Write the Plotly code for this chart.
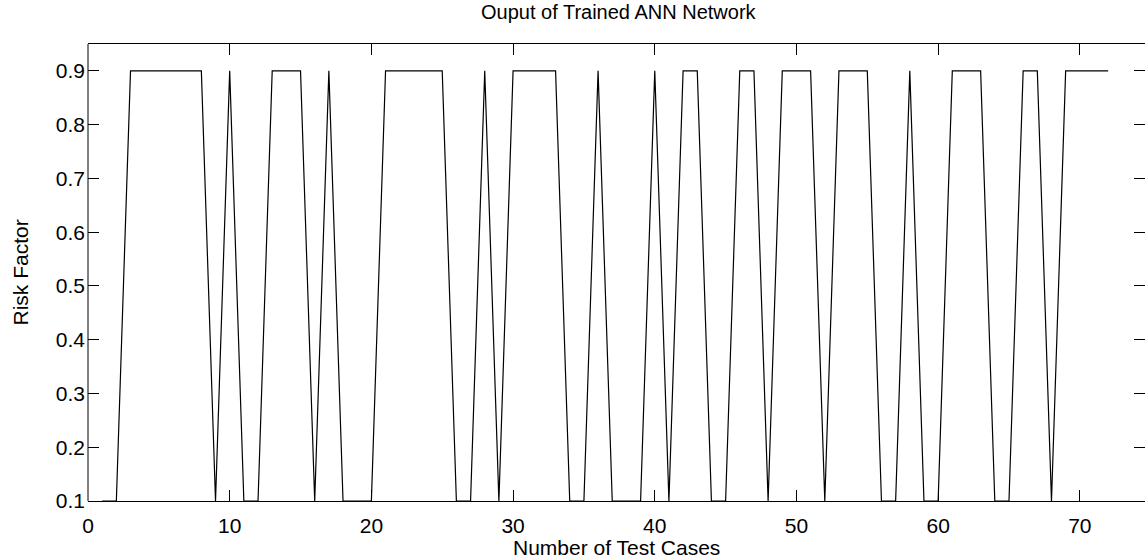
import plotly.graph_objects as go

# Network output for each test case
test_cases = list(range(1, 73))
risk_factor = [
    0.1, 0.1, 0.9, 0.9, 0.9, 0.9, 0.9, 0.9, 0.1, 0.9,
    0.1, 0.1, 0.9, 0.9, 0.9, 0.1, 0.9, 0.1, 0.1, 0.1,
    0.9, 0.9, 0.9, 0.9, 0.9, 0.1, 0.1, 0.9, 0.1, 0.9,
    0.9, 0.9, 0.9, 0.1, 0.1, 0.9, 0.1, 0.1, 0.1, 0.9,
    0.1, 0.9, 0.9, 0.1, 0.1, 0.9, 0.9, 0.1, 0.9, 0.9,
    0.9, 0.1, 0.9, 0.9, 0.9, 0.1, 0.1, 0.9, 0.1, 0.1,
    0.9, 0.9, 0.9, 0.1, 0.1, 0.9, 0.9, 0.1, 0.9, 0.9,
    0.9, 0.9,
]
x_ticks = [0, 10, 20, 30, 40, 50, 60, 70]
y_ticks = [0.1, 0.2, 0.3, 0.4, 0.5, 0.6, 0.7, 0.8, 0.9]

W, H = 1145, 559
L, R, T, B = 88, 0, 44, 58
FONT = "Arial, Liberation Sans, Helvetica, sans-serif"

fig = go.Figure()
fig.add_trace(go.Scatter(
    x=test_cases, y=risk_factor, mode="lines",
    line=dict(color="black", width=1.2),
    showlegend=False, hoverinfo="x+y",
))

fig.update_layout(
    width=W, height=H,
    margin=dict(l=L, r=R, t=T, b=B, pad=0),
    paper_bgcolor="white", plot_bgcolor="white",
    font=dict(family=FONT, size=21, color="black"),
    xaxis=dict(
        range=[0, 74.6], tickvals=x_ticks, ticktext=[str(v) for v in x_ticks],
        ticks="inside", ticklen=11, tickwidth=1, tickcolor="black",
        showline=True, linecolor="black", linewidth=1, mirror="ticks",
        showgrid=False, zeroline=False,
        tickfont=dict(size=21), ticklabelstandoff=6,
    ),
    yaxis=dict(
        range=[0.1, 0.95], tickvals=y_ticks, ticktext=[f"{v:.1f}" for v in y_ticks],
        ticks="inside", ticklen=11, tickwidth=1, tickcolor="black",
        showline=False, mirror="ticks",
        showgrid=False, zeroline=False,
        tickfont=dict(size=21), ticklabelstandoff=2,
    ),
    shapes=[dict(type="line", xref="paper", yref="paper", x0=0, x1=0, y0=0, y1=1,
                 line=dict(color="black", width=1))],
    annotations=[
        dict(text="Ouput of Trained ANN Network", xref="paper", yref="paper",
             x=(619 - L) / (W - L), y=1 + 32 / (H - T - B), xanchor="center", yanchor="middle",
             showarrow=False, font=dict(size=20)),
        dict(text="Number of Test Cases", xref="paper", yref="paper",
             x=(616 - L) / (W - L), y=-(547 - (H - B)) / (H - T - B), xanchor="center", yanchor="middle",
             showarrow=False, font=dict(size=21)),
        dict(text="Risk Factor", xref="paper", yref="paper",
             x=-(88 - 20) / (W - L), y=0.5, xanchor="center", yanchor="middle",
             textangle=-90, showarrow=False, font=dict(size=21)),
    ],
)

fig.write_html("out.html")
